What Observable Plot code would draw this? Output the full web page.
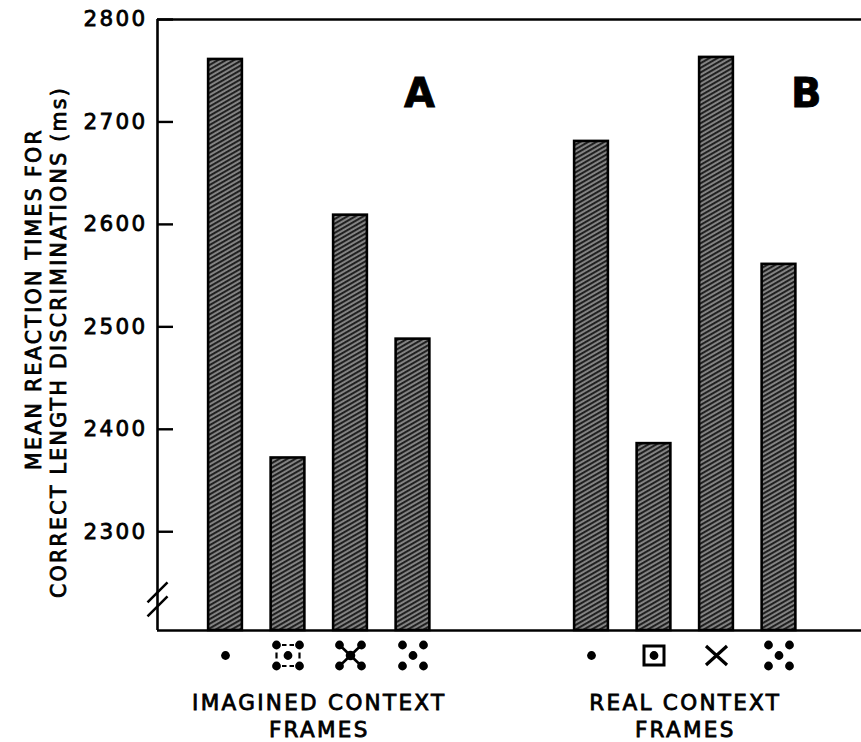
<!DOCTYPE html>
<html>
<head>
<meta charset="utf-8">
<script src="https://cdn.jsdelivr.net/npm/d3@7"></script>
<script src="https://cdn.jsdelivr.net/npm/@observablehq/plot@0.6"></script>
<style>
  html, body { margin: 0; padding: 0; background: #fff; }
  #chart svg text { letter-spacing: 2.3px; stroke: #000; stroke-width: 0.8px; }
</style>
</head>
<body>
<div id="chart"></div>
<script>
// ---- data ----
const groupLabels = ["IMAGINED CONTEXT\nFRAMES", "REAL CONTEXT\nFRAMES"];
const panelLetters = ["A", "B"];
const imaginedFrames = ["dot", "dashed-square", "dotted-x", "five-dots"];
const realFrames = ["dot", "square", "x", "five-dots"];
const imaginedRT = [2761, 2372, 2609, 2488];
const realRT = [2681, 2386, 2763, 2561];
const yTicks = [2300, 2400, 2500, 2600, 2700, 2800];
const yTitle = ["MEAN REACTION TIMES FOR", "CORRECT LENGTH DISCRIMINATIONS (ms)"];

// ---- layout constants ----
const X_DOMAIN = [-1.088, 10.176];
const Y_DOMAIN = [2203.6, 2800];
const GROUP_STEP = 5.856;
const HALF_BAR = 0.27;
const BREAK_AT = 2234;

const rows = [imaginedRT, realRT].flatMap((values, g) =>
  values.map((rt, i) => ({group: g, frame: (g ? realFrames : imaginedFrames)[i], slot: g * GROUP_STEP + i, rt}))
);

// ---- custom glyph symbols (drawn as filled shapes) ----
function circle(ctx, cx, cy, r) { ctx.moveTo(cx + r, cy); ctx.arc(cx, cy, r, 0, 2 * Math.PI); }
function poly(ctx, pts, hole = false) {
  let a = 0;
  for (let i = 0; i < pts.length; i++) {
    const [x0, y0] = pts[i], [x1, y1] = pts[(i + 1) % pts.length];
    a += x0 * y1 - x1 * y0;
  }
  if ((a < 0) !== hole) pts = pts.slice().reverse();
  ctx.moveTo(pts[0][0], pts[0][1]);
  for (let i = 1; i < pts.length; i++) ctx.lineTo(pts[i][0], pts[i][1]);
  ctx.closePath();
}
function bar(ctx, x0, y0, x1, y1, w) {
  const dx = x1 - x0, dy = y1 - y0, L = Math.hypot(dx, dy);
  const nx = -dy / L * w / 2, ny = dx / L * w / 2;
  poly(ctx, [[x0 + nx, y0 + ny], [x1 + nx, y1 + ny], [x1 - nx, y1 - ny], [x0 - nx, y0 - ny]]);
}
function box(ctx, hx, hy, hole) {
  poly(ctx, [[-hx, -hy], [hx, -hy], [hx, hy], [-hx, hy]], hole);
}
const unit = size => Math.sqrt(size / Math.PI) / 12;
const GLYPHS = {
  "dot": {draw(ctx, size) { const k = unit(size); circle(ctx, 0, 0, 4.4 * k); }},
  "five-dots": {draw(ctx, size) {
    const k = unit(size);
    for (const sx of [-1, 1]) for (const sy of [-1, 1]) circle(ctx, sx * 10.5 * k, sy * 10.5 * k, 4.4 * k);
    circle(ctx, 0, 0, 4.4 * k);
  }},
  "dashed-square": {draw(ctx, size) {
    const k = unit(size), hx = 11.5 * k, hy = 10.5 * k;
    for (const sx of [-1, 1]) for (const sy of [-1, 1]) circle(ctx, sx * hx, sy * hy, 4.4 * k);
    circle(ctx, 0, 0, 4.4 * k);
    for (const sy of [-1, 1]) {
      bar(ctx, -6 * k, sy * hy, -1.5 * k, sy * hy, 2.2 * k);
      bar(ctx, 1.5 * k, sy * hy, 6 * k, sy * hy, 2.2 * k);
    }
    for (const sx of [-1, 1]) bar(ctx, sx * hx, -3 * k, sx * hx, 3 * k, 2.2 * k);
  }},
  "dotted-x": {draw(ctx, size) {
    const k = unit(size), hx = 11 * k, hy = 10.5 * k;
    bar(ctx, -hx, -hy, hx, hy, 2.6 * k);
    bar(ctx, hx, -hy, -hx, hy, 2.6 * k);
    for (const sx of [-1, 1]) for (const sy of [-1, 1]) circle(ctx, sx * hx, sy * hy, 4.4 * k);
    circle(ctx, 0, 0, 4.8 * k);
  }},
  "square": {draw(ctx, size) {
    const k = unit(size);
    box(ctx, 11.5 * k, 11 * k, false);
    box(ctx, 8.5 * k, 8 * k, true);
    circle(ctx, 0, 0, 4.4 * k);
  }},
  "x": {draw(ctx, size) {
    const k = unit(size);
    bar(ctx, -10.5 * k, -9.5 * k, 10.5 * k, 9.5 * k, 3.2 * k);
    bar(ctx, 10.5 * k, -9.5 * k, -10.5 * k, 9.5 * k, 3.2 * k);
  }}
};
const BREAK = {draw(ctx, size) {
  const k = unit(size);
  for (const oy of [-7, 7]) bar(ctx, -10 * k, (oy + 10) * k, 10 * k, (oy - 10) * k, 2.5 * k);
}};

const FONT = "DejaVu Sans";

const svg = Plot.plot({
  width: 861,
  height: 742,
  marginTop: 19,
  marginBottom: 112,
  marginLeft: 157,
  marginRight: 0,
  style: {fontFamily: FONT, background: "#fff", color: "#000"},
  x: {type: "linear", domain: X_DOMAIN, axis: null},
  y: {domain: Y_DOMAIN},
  marks: [
    Plot.rectY(rows, {
      x1: d => d.slot - HALF_BAR, x2: d => d.slot + HALF_BAR,
      y1: Y_DOMAIN[0], y2: "rt",
      fill: "url(#hatch)", stroke: "#000", strokeWidth: 2.6
    }),
    Plot.ruleY([Y_DOMAIN[0], Y_DOMAIN[1]], {stroke: "#000", strokeWidth: 2.6}),
    Plot.ruleX([X_DOMAIN[0]], {stroke: "#000", strokeWidth: 2.6}),
    Plot.axisY(yTicks, {
      tickSize: -16, tickPadding: 26, strokeWidth: 2.4,
      fontSize: 21.5, tickFormat: d3.format("d"), label: null
    }),
    Plot.dot([BREAK_AT], {x: X_DOMAIN[0], y: d => d, r: 12, symbol: BREAK, fill: "#000"}),
    ...Object.entries(GLYPHS).map(([name, sym]) =>
      Plot.dot(rows.filter(d => d.frame === name), {
        x: "slot", frameAnchor: "bottom", dy: 25, r: 12, symbol: sym, fill: "#000"
      })
    ),
    Plot.text(groupLabels, {
      x: (d, i) => i * GROUP_STEP + 1.5, text: d => d,
      frameAnchor: "bottom", dy: 84, lineAnchor: "middle", lineHeight: 1.28,
      fontSize: 21.5
    }),
    Plot.text([yTitle[0]], {
      text: d => d, frameAnchor: "left", textAnchor: "middle", rotate: -90,
      dx: -123, dy: -26, fontSize: 20.5
    }),
    Plot.text([yTitle[1]], {
      text: d => d, frameAnchor: "left", textAnchor: "middle", rotate: -90,
      dx: -98, dy: 17, fontSize: 20.5
    }),
    Plot.text(panelLetters, {
      x: (d, i) => (i === 0 ? 3.12 : 9.31), y: 2727,
      text: d => d, fontSize: 40, fontWeight: "bold"
    })
  ]
});

const defs = d3.select(svg).insert("defs", ":first-child");
const pat = defs.append("pattern")
  .attr("id", "hatch")
  .attr("patternUnits", "userSpaceOnUse")
  .attr("width", 4).attr("height", 4)
  .attr("patternTransform", "rotate(-30)");
pat.append("rect").attr("width", 4).attr("height", 4).attr("fill", "#888");
pat.append("rect").attr("width", 4).attr("height", 2.1).attr("fill", "#202020");

document.getElementById("chart").appendChild(svg);
</script>
</body>
</html>
